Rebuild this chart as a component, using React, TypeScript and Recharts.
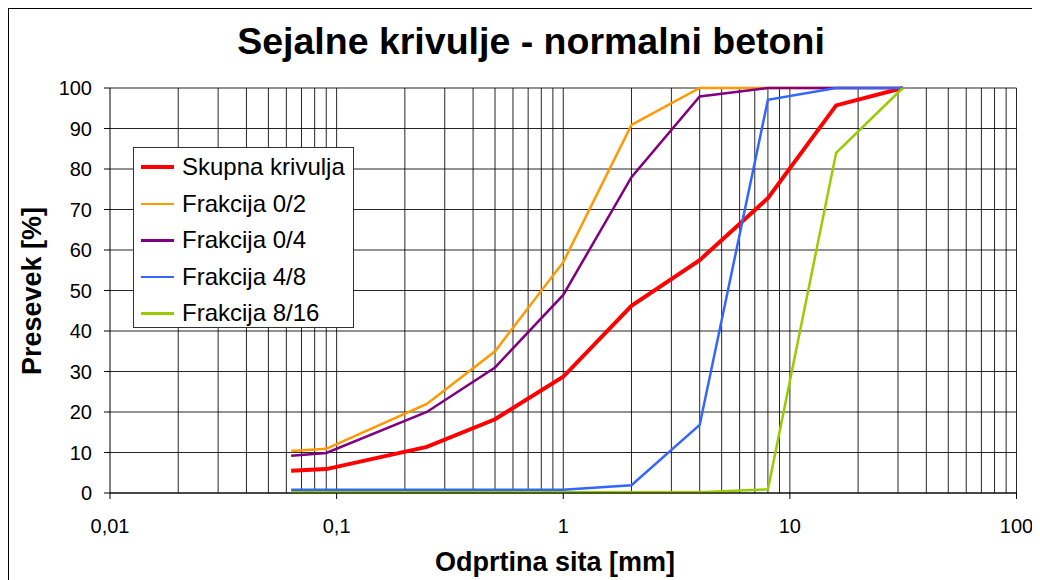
import React from 'react';
import {
  LineChart,
  Line,
  XAxis,
  YAxis,
  CartesianGrid,
  ReferenceLine,
} from 'recharts';

// sieve openings [mm]
const sieves = [0.063, 0.09, 0.25, 0.5, 1, 2, 4, 8, 16, 31.5];

// passing [%]
const skupna = [5.5, 5.9, 11.4, 18.2, 28.7, 46.2, 57.5, 72.8, 95.7, 100];
const frak02 = [10.4, 10.9, 22, 35, 57, 90.9, 100, 100, 100, 100];
const frak04 = [9.2, 9.9, 20, 31, 48.9, 78, 97.9, 100, 100, 100];
const frak48 = [0.8, 0.8, 0.8, 0.8, 0.8, 1.9, 16.8, 97.1, 100, 100];
const frak816 = [0.2, 0.2, 0.2, 0.2, 0.2, 0.2, 0.2, 0.9, 84, 100];

const xTicks = [0.01, 0.1, 1, 10, 100];
const yTicks = [0, 10, 20, 30, 40, 50, 60, 70, 80, 90, 100];
const xGrid = [
  0.02, 0.03, 0.04, 0.05, 0.06, 0.07, 0.08, 0.09, 0.1,
  0.2, 0.3, 0.4, 0.5, 0.6, 0.7, 0.8, 0.9, 1,
  2, 3, 4, 5, 6, 7, 8, 9, 10,
  20, 30, 40, 50, 60, 70, 80, 90, 100,
];

const series = [
  { key: 'skupna', name: 'Skupna krivulja', color: '#FF0000', width: 4 },
  { key: 'frak02', name: 'Frakcija 0/2', color: '#FF9900', width: 2.5 },
  { key: 'frak04', name: 'Frakcija 0/4', color: '#800080', width: 2.5 },
  { key: 'frak48', name: 'Frakcija 4/8', color: '#3366FF', width: 2.5 },
  { key: 'frak816', name: 'Frakcija 8/16', color: '#99CC00', width: 2.5 },
];

const data = sieves.map((s, i) => ({
  sito: s,
  skupna: skupna[i],
  frak02: frak02[i],
  frak04: frak04[i],
  frak48: frak48[i],
  frak816: frak816[i],
}));

const font = '"Liberation Sans", Arial, sans-serif';

function LegendBox() {
  return (
    <div
      style={{
        position: 'absolute',
        left: 124,
        top: 138,
        width: 221,
        height: 181,
        boxSizing: 'border-box',
        border: '1px solid #333',
        background: '#fff',
        paddingTop: 1,
        fontFamily: font,
      }}
    >
      {series.map((s) => (
        <div key={s.key} style={{ display: 'flex', alignItems: 'center', height: 36.5 }}>
          <div style={{ width: 33, height: s.width, background: s.color, marginLeft: 7, marginRight: 8 }} />
          <span style={{ fontSize: 24, color: '#000', whiteSpace: 'nowrap' }}>{s.name}</span>
        </div>
      ))}
    </div>
  );
}

export default function App() {
  return (
    <div
      style={{
        position: 'relative',
        width: 1100,
        height: 620,
        border: '1px solid #000',
        background: '#fff',
        fontFamily: font,
      }}
    >
      <div
        style={{
          position: 'absolute',
          left: 0,
          width: 1044,
          top: 11,
          textAlign: 'center',
          fontSize: 37.5,
          fontWeight: 'bold',
          color: '#000',
        }}
      >
        Sejalne krivulje - normalni betoni
      </div>
      <div
        style={{
          position: 'absolute',
          left: 23,
          top: 282,
          transform: 'translate(-50%, -50%) rotate(-90deg)',
          fontSize: 27,
          fontWeight: 'bold',
          whiteSpace: 'nowrap',
        }}
      >
        Presevek [%]
      </div>
      <div
        style={{
          position: 'absolute',
          left: 546,
          top: 553,
          transform: 'translate(-50%, -50%)',
          fontSize: 27,
          fontWeight: 'bold',
          whiteSpace: 'nowrap',
        }}
      >
        Odprtina sita [mm]
      </div>
      <LineChart
        width={1040}
        height={580}
        data={data}
        margin={{ top: 79, right: 32.5, left: 0, bottom: 0 }}
        style={{ position: 'absolute', left: 0, top: 0 }}
      >
        <CartesianGrid vertical={false} stroke="#000" strokeOpacity={0.85} />
        {xGrid.map((v) => (
          <ReferenceLine key={v} x={v} stroke="#000" strokeOpacity={0.85} />
        ))}
        <XAxis
          dataKey="sito"
          type="number"
          scale="log"
          domain={[0.01, 100]}
          ticks={xTicks}
          interval={0}
          allowDataOverflow
          height={96}
          stroke="#000"
          tickSize={6}
          tickMargin={20}
          tick={{ fontSize: 20, fill: '#000', fontFamily: font }}
          tickFormatter={(v: number) => String(v).replace('.', ',')}
        />
        <YAxis
          type="number"
          domain={[0, 100]}
          ticks={yTicks}
          interval={0}
          width={101}
          stroke="#000"
          tickSize={6}
          tickMargin={12}
          tick={{ fontSize: 20, fill: '#000', fontFamily: font }}
        />
        {series.map((s) => (
          <Line
            key={s.key}
            dataKey={s.key}
            name={s.name}
            type="linear"
            stroke={s.color}
            strokeWidth={s.width}
            dot={false}
            activeDot={false}
            isAnimationActive={false}
          />
        ))}
      </LineChart>
      <LegendBox />
    </div>
  );
}
